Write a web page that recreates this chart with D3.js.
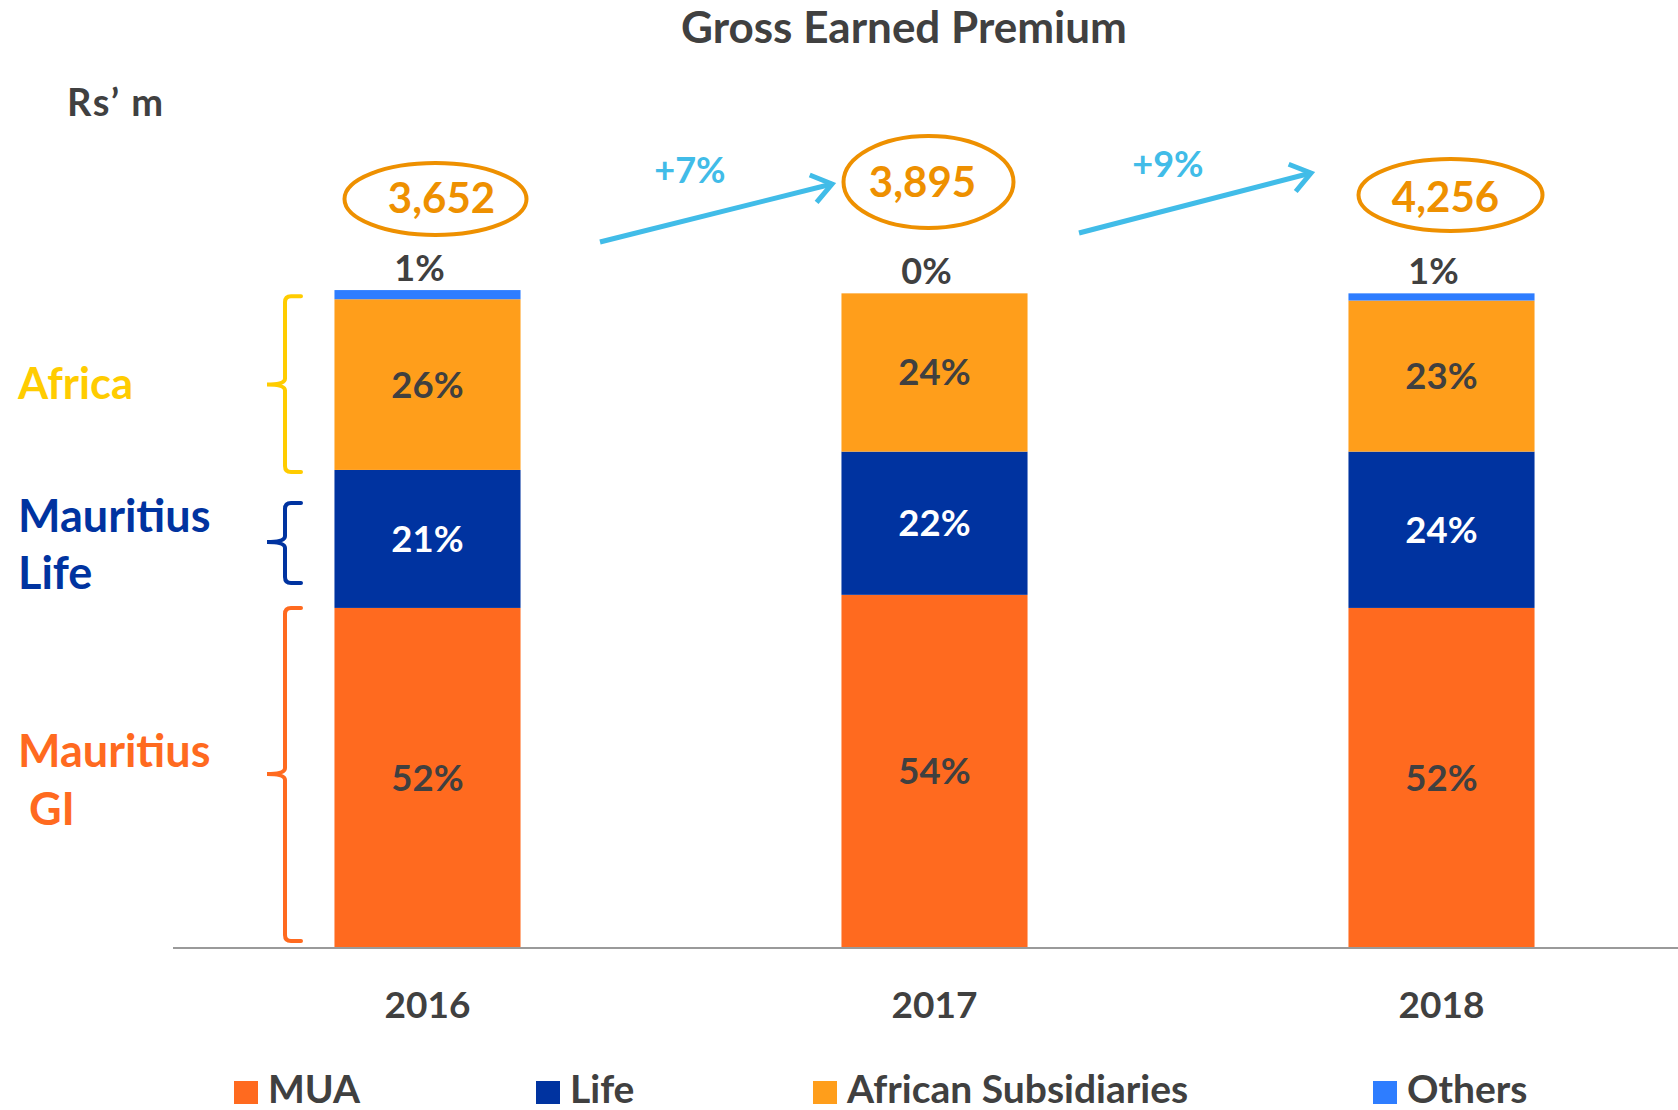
<!DOCTYPE html>
<html>
<head>
<meta charset="utf-8">
<script src="https://cdn.jsdelivr.net/npm/d3@7"></script>
<style>
  html, body { margin: 0; padding: 0; background: #ffffff; }
  svg { display: block; }
  text { font-family: Lato, "Open Sans", sans-serif; font-weight: bold; }
</style>
</head>
<body>
<svg id="chart" width="1678" height="1110"></svg>
<script>
// ---------------- data ----------------
const years = ["2016", "2017", "2018"];
const seriesNames = ["MUA", "Life", "African Subsidiaries", "Others"];
const muaShare = [52.0, 54.0, 52.0];
const lifeShare = [21.1, 21.9, 23.9];
const africanShare = [26.1, 24.2, 23.1];
const othersShare = [1.4, 0.0, 1.1];
const totals = [3652, 3895, 4256];
const growthLabels = ["+7%", "+9%"];
const groupLabels = [["Africa"], ["Mauritius", "Life"], ["Mauritius", " GI"]];

// ---------------- styles ----------------
const colors = {
  "MUA": "#FF6A1F",
  "Life": "#0033A0",
  "African Subsidiaries": "#FF9E1B",
  "Others": "#2E7DFF"
};
const textDark = "#404040";
const totalColor = "#EE9000";
const arrowColor = "#41BCE8";

const svg = d3.select("#chart");

// table for stacking
const table = years.map((y, i) => ({
  year: y,
  "MUA": muaShare[i],
  "Life": lifeShare[i],
  "African Subsidiaries": africanShare[i],
  "Others": othersShare[i]
}));

const x = d3.scaleBand().domain(years).range([174, 1695]).paddingInner(0.633).paddingOuter(0.3165);
const y = d3.scaleLinear().domain([0, 100]).range([948, 294]);

const stack = d3.stack().keys(seriesNames);
const stacked = stack(table);

// bars
const layers = svg.append("g").selectAll("g")
  .data(stacked).join("g")
  .attr("fill", d => colors[d.key]);

layers.selectAll("rect")
  .data(d => d.map(v => ({ key: d.key, v })))
  .join("rect")
  .attr("x", d => x(d.v.data.year))
  .attr("width", x.bandwidth())
  .attr("y", d => y(d.v[1]))
  .attr("height", d => Math.max(0, y(d.v[0]) - y(d.v[1])));

// axis baseline
const xAxis = d3.axisBottom(x).tickSize(0).tickPadding(0);
const axisG = svg.append("g").attr("transform", "translate(0,948)").call(xAxis);
axisG.select(".domain").remove();
axisG.selectAll(".tick text").remove();
svg.append("line")
  .attr("x1", 173).attr("x2", 1678)
  .attr("y1", 948).attr("y2", 948)
  .attr("stroke", "#9a9a9a").attr("stroke-width", 2);

// year labels
axisG.selectAll(".tick").append("text")
  .attr("y", 70)
  .attr("text-anchor", "middle")
  .attr("fill", textDark)
  .attr("font-size", 37)
  .text(d => d);

const fmtPct = v => d3.format(".0f")(v) + "%";

// segment labels (MUA, Life, African)
stacked.slice(0, 3).forEach(layer => {
  svg.append("g").selectAll("text")
    .data(layer)
    .join("text")
    .attr("x", d => x(d.data.year) + x.bandwidth() / 2)
    .attr("y", d => (y(d[0]) + y(d[1])) / 2 + 13)
    .attr("text-anchor", "middle")
    .attr("font-size", 36.5)
    .attr("fill", layer.key === "Life" ? "#ffffff" : textDark)
    .text(d => fmtPct(d[1] - d[0]));
});

// Others labels above bars
const othersLayer = stacked[3];
svg.append("g").selectAll("text")
  .data(othersLayer)
  .join("text")
  .attr("x", d => x(d.data.year) + x.bandwidth() / 2 - 8)
  .attr("y", d => y(d[1]) - 9)
  .attr("text-anchor", "middle")
  .attr("font-size", 36)
  .attr("fill", textDark)
  .text(d => fmtPct(d[1] - d[0]));

// totals in ellipses
const ellipseLayout = [
  { dx: 8, cy: 199, rx: 91, ry: 36, ty: 213, tdx: 6 },
  { dx: -6, cy: 182, rx: 85, ry: 46, ty: 197, tdx: -6 },
  { dx: 9, cy: 195, rx: 92, ry: 36, ty: 212, tdx: -5 }
];
const totG = svg.append("g");
years.forEach((yr, i) => {
  const L = ellipseLayout[i];
  const cx = x(yr) + x.bandwidth() / 2 + L.dx;
  totG.append("ellipse")
    .attr("cx", cx).attr("cy", L.cy)
    .attr("rx", L.rx).attr("ry", L.ry)
    .attr("fill", "none").attr("stroke", totalColor).attr("stroke-width", 4);
  totG.append("text")
    .attr("x", cx + L.tdx).attr("y", L.ty)
    .attr("text-anchor", "middle")
    .attr("font-size", 42)
    .attr("fill", totalColor)
    .text(d3.format(",")(totals[i]));
});

// growth arrows
const arrowLayout = [
  { x1: 600, y1: 242, x2: 832, y2: 184, lx: 690, ly: 183 },
  { x1: 1079, y1: 233, x2: 1311, y2: 173, lx: 1168, ly: 177 }
];
growthLabels.forEach((g, i) => {
  const a = arrowLayout[i];
  const ang = Math.atan2(a.y2 - a.y1, a.x2 - a.x1);
  const hl = 24, ha = Math.PI / 5;
  const p1 = [a.x2 - hl * Math.cos(ang - ha), a.y2 - hl * Math.sin(ang - ha)];
  const p2 = [a.x2 - hl * Math.cos(ang + ha), a.y2 - hl * Math.sin(ang + ha)];
  svg.append("line")
    .attr("x1", a.x1).attr("y1", a.y1).attr("x2", a.x2).attr("y2", a.y2)
    .attr("stroke", arrowColor).attr("stroke-width", 5);
  svg.append("path")
    .attr("d", `M${p1[0]},${p1[1]} L${a.x2},${a.y2} L${p2[0]},${p2[1]}`)
    .attr("fill", "none").attr("stroke", arrowColor).attr("stroke-width", 5)
    .attr("stroke-linejoin", "miter");
  svg.append("text")
    .attr("x", a.lx).attr("y", a.ly)
    .attr("text-anchor", "middle")
    .attr("font-size", 36)
    .attr("fill", arrowColor)
    .text(g);
});

// title and unit
svg.append("text")
  .attr("x", 904).attr("y", 43)
  .attr("text-anchor", "middle")
  .attr("font-size", 44)
  .attr("fill", textDark)
  .text("Gross Earned Premium");

svg.append("text")
  .attr("x", 67).attr("y", 116)
  .attr("font-size", 38)
  .attr("letter-spacing", 1.5)
  .attr("fill", textDark)
  .text("Rs\u2019 m");

// left group braces and labels
function brace(top, bottom, mid, color) {
  const xv = 285, xr = 301, xl = 267, r = 6;
  const p = d3.path();
  p.moveTo(xr, top);
  p.lineTo(xv + r, top);
  p.quadraticCurveTo(xv, top, xv, top + r);
  p.lineTo(xv, mid - 6);
  p.quadraticCurveTo(xv, mid, xl, mid);
  p.quadraticCurveTo(xv, mid, xv, mid + 6);
  p.lineTo(xv, bottom - r);
  p.quadraticCurveTo(xv, bottom, xv + r, bottom);
  p.lineTo(xr, bottom);
  svg.append("path").attr("d", p.toString())
    .attr("fill", "none").attr("stroke", color).attr("stroke-width", 4)
    .attr("stroke-linecap", "round");
}
const groupColors = ["#FFCC00", "#0033A0", "#FF6A1F"];
// brace extents follow stacked segments of first bar
const b0 = stacked[2][0], b1 = stacked[1][0], b2 = stacked[0][0];
brace(y(b0[1]) - 3, y(b0[0]) + 2, (y(b0[1]) + y(b0[0])) / 2, groupColors[0]);
brace(y(b1[1]) + 33, y(b1[0]) - 25, (y(b1[1]) + y(b1[0])) / 2 + 3, groupColors[1]);
brace(y(b2[1]), y(b2[0]) - 7, (y(b2[1]) + y(b2[0])) / 2 - 4, groupColors[2]);

const groupLabelY = [[399], [532, 589], [767, 825]];
const groupLabelSize = [43.5, 45, 45];
groupLabels.forEach((lines, i) => {
  lines.forEach((t, j) => {
    svg.append("text")
      .attr("x", 18).attr("y", groupLabelY[i][j])
      .attr("font-size", groupLabelSize[i])
      .attr("fill", groupColors[i])
      .attr("xml:space", "preserve")
      .style("white-space", "pre")
      .text(t);
  });
});

// legend
const legendX = [234, 536, 813, 1373];
const legend = svg.append("g");
seriesNames.forEach((s, i) => {
  legend.append("rect")
    .attr("x", legendX[i]).attr("y", 1081)
    .attr("width", 24).attr("height", 23)
    .attr("fill", colors[s]);
  legend.append("text")
    .attr("x", legendX[i] + 34).attr("y", 1103)
    .attr("font-size", 39)
    .attr("fill", textDark)
    .text(s);
});
</script>
</body>
</html>
